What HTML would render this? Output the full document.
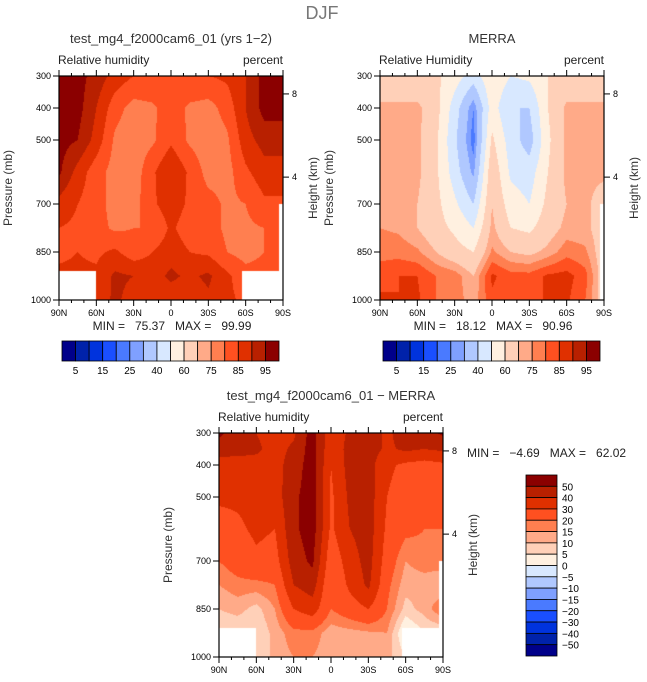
<!DOCTYPE html>
<html><head><meta charset="utf-8">
<style>
body{margin:0;background:#fff;width:647px;height:682px;overflow:hidden;position:relative;font-family:"Liberation Sans",sans-serif;}
canvas{position:absolute;left:0;top:0;}
svg{position:absolute;left:0;top:0;}
text{white-space:pre;}
</style></head><body>
<canvas id="cv" width="647" height="682"></canvas>
<svg id="sv" width="647" height="682"></svg>
<script>
// ---- data ----
const lats = [90,75,60,45,30,15,0,-15,-30,-45,-60,-75,-90];
const pres = [300,400,500,600,700,775,850,925,1000];
const presDiff = [300,350,400,500,600,700,775,850,925,1000];
const modelRH = [
 [97,97,93,88,85,85,83,85,85,86,90,97,97],
 [97,97,90,82,78,79,83,79,78,82,90,97,97],
 [97,95,88,79,77,79,84,79,77,79,88,92,92],
 [96,88,82,78,77,84,90,84,78,78,84,88,88],
 [88,85,82,78,78,84,88,84,82,79,80,84,84],
 [85,84,82,79,80,80,86,82,82,79,79,80,80],
 [84,85,84,86,82,85,88,85,84,80,78,80,80],
 [86,86,86,91,90,88,91,89,91,86,82,82,82],
 [87,87,87,91,88,87,87,87,89,86,84,84,84]
];
const merraRH = [
 [62,62,62,62,55,45,58,50,52,60,62,62,62],
 [72,72,72,64,45,25,55,40,40,60,72,72,72],
 [72,72,72,62,42,22,62,45,35,58,72,72,72],
 [72,72,72,62,45,28,68,48,45,60,72,72,72],
 [72,72,70,63,52,40,70,55,50,63,70,72,65],
 [75,74,70,64,58,50,72,60,58,66,72,72,65],
 [78,78,76,70,64,60,76,70,68,72,78,76,65],
 [83,85,85,80,78,70,86,82,82,86,87,82,65],
 [86,85,86,80,78,72,84,82,82,86,86,80,65]
];
const diffRH = [
 [52,45,40,35,38,55,32,42,45,38,45,45,52],
 [45,44,42,36,42,55,32,44,45,38,42,40,42],
 [35,35,36,36,45,55,30,44,44,32,28,26,28],
 [32,32,34,35,48,55,28,42,45,30,25,22,22],
 [25,28,32,30,48,55,28,40,45,28,22,20,20],
 [20,24,28,26,45,52,23,35,44,25,15,18,18],
 [15,18,18,20,40,45,20,32,42,22,12,12,10],
 [10,12,8,15,30,35,20,25,30,20,8,12,20],
 [5,5,5,12,18,18,12,13,14,15,-2,5,5],
 [5,5,5,12,15,15,12,12,12,12,5,5,5]
];
// missing regions: [latFrom, latTo, pressureFrom]
const maskModel = [[90,60,910],[-57,-90,910],[-87,-90,700]];
const maskMerra = [[-87,-90,700]];
const maskDiff = [[90,60,910],[-57,-90,910],[-87,-90,700]];
const levelsAbs = [5,10,15,20,25,30,40,50,60,70,75,80,85,90,95];
const levelsDiff = [-50,-40,-30,-20,-15,-10,-5,0,5,10,15,20,30,40,50];
const labelsAbs = [5,15,25,40,60,75,85,95];
const palette = ["#00008a","#0022aa","#0033dd","#1a4fff","#4a7aff","#7fa0ff","#b0c8ff","#d8e8ff",
 "#fff0e0","#ffd0b8","#ffaa88","#ff7f50","#ff5020","#e03000","#b82000","#8b0000"];
const stats = [["75.37","99.99"],["18.12","90.96"],["\u22124.69","62.02"]];

// ---- drawing ----
const ctx = document.getElementById('cv').getContext('2d');
const sv = document.getElementById('sv');
const NS = "http://www.w3.org/2000/svg";
function el(tag, attrs, txt){const e=document.createElementNS(NS,tag);for(const k in attrs)e.setAttribute(k,attrs[k]);if(txt!==undefined)e.textContent=txt;sv.appendChild(e);return e;}
function colorFor(v,levels){let i=0;while(i<levels.length&&v>=levels[i])i++;return palette[i];}
function interp(grid,plist,lat,p){
  let fx=(90-lat)/15; let i0=Math.min(Math.floor(fx),lats.length-2); let tx=fx-i0;
  let j0=0; while(j0<plist.length-2&&p>plist[j0+1])j0++;
  let ty=(p-plist[j0])/(plist[j0+1]-plist[j0]); ty=Math.max(0,Math.min(1,ty));
  const a=grid[j0][i0],b=grid[j0][i0+1],c=grid[j0+1][i0],d=grid[j0+1][i0+1];
  return (a*(1-tx)+b*tx)*(1-ty)+(c*(1-tx)+d*tx)*ty;
}
function masked(mask,lat,p){for(const m of mask){if(lat<=m[0]&&lat>=m[1]&&p>m[2])return true;}return false;}

function panel(o){
  const x0=o.x,y0=o.y,w=224,h=224;
  const xs=lat=>x0+(90-lat)/180*w;
  const ys=p=>y0+(p-300)/700*h;
  for(let px=0;px<w;px++){for(let py=0;py<h;py++){
    const lat=90-(px+0.5)/w*180, p=300+(py+0.5)/h*700;
    if(masked(o.mask,lat,p))continue;
    ctx.fillStyle=colorFor(interp(o.grid,o.plist,lat,p),o.levels);
    ctx.fillRect(x0+px,y0+py,1,1);
  }}
  el('rect',{x:x0,y:y0,width:w,height:h,fill:'none',stroke:'#000','stroke-width':1.2});
  const xl=['90N','60N','30N','0','30S','60S','90S'];
  for(let k=0;k<=18;k++){const lat=90-k*10,x=xs(lat),maj=k%3==0,L=maj?6:3;
    el('line',{x1:x,x2:x,y1:y0+h,y2:y0+h+L,stroke:'#000'});
    el('line',{x1:x,x2:x,y1:y0,y2:y0-L,stroke:'#000'});
    if(maj){const t=el('text',{x:x,y:y0+h+16,'font-size':9,'text-anchor':'middle'},xl[k/3]);
      }}
  for(const p of [300,400,500,700,850,1000]){const y=ys(p);
    el('line',{x1:x0,x2:x0-6,y1:y,y2:y,stroke:'#000'});
    const t=el('text',{x:x0-8,y:y+3,'font-size':9,'text-anchor':'end'},p);
    }
  for(const [km,p] of [[8,356],[4,616]]){const y=ys(p);
    el('line',{x1:x0+w,x2:x0+w+6,y1:y,y2:y,stroke:'#000'});
    el('text',{x:x0+w+9,y:y+3,'font-size':9},km);}
  const pt=el('text',{x:0,y:0,'font-size':12,fill:'#333','text-anchor':'middle',transform:`translate(${x0-47},${y0+112}) rotate(-90)`},'Pressure (mb)');
  
  const ht=el('text',{x:0,y:0,'font-size':12,fill:'#333','text-anchor':'middle',transform:`translate(${x0+w+34},${y0+112}) rotate(-90)`},'Height (km)');
  
  const tt=el('text',{x:x0+w/2,y:y0-33,'font-size':13,fill:'#333','text-anchor':'middle'},o.title);
  
  const l1=el('text',{x:x0-1,y:y0-12,'font-size':12,fill:'#222'},o.left);
  
  const l2=el('text',{x:x0+w,y:y0-12,'font-size':12,fill:'#222','text-anchor':'end'},'percent');
  
}
function statLine(x,y,s,anchor){
  const t=el('text',{x:x,y:y,'font-size':12,fill:'#222','text-anchor':anchor},'MIN =   '+s[0]+'   MAX =   '+s[1]);
  
}
function hbar(x0,y0){
  const w=217/16;
  for(let i=0;i<16;i++){const r=el('rect',{x:x0+i*w,y:y0,width:w,height:20,fill:palette[i],stroke:'#000','stroke-width':0.8});
    }
  labelsAbs.forEach(v=>{const i=levelsAbs.indexOf(v)+1;
    const t=el('text',{x:x0+i*w,y:y0+33,'font-size':10,'text-anchor':'middle'},v);
    });
}
function vbar(x0,y0){
  const h=181/16;
  for(let i=0;i<16;i++){const r=el('rect',{x:x0,y:y0+i*h,width:31,height:h,fill:palette[15-i],stroke:'#000','stroke-width':0.8});
    }
  levelsDiff.slice().reverse().forEach((v,k)=>{
    const t=el('text',{x:x0+36,y:y0+(k+1)*h+4,'font-size':10},String(v).replace('-','\u2212'));
    });
}
const main=el('text',{x:322,y:19,'font-size':18,fill:'#777','text-anchor':'middle'},'DJF');

panel({name:'model',x:59,y:76,grid:modelRH,plist:pres,levels:levelsAbs,mask:maskModel,title:'test_mg4_f2000cam6_01 (yrs 1\u22122)',left:'Relative humidity'});
panel({name:'merra',x:380,y:76,grid:merraRH,plist:pres,levels:levelsAbs,mask:maskMerra,title:'MERRA',left:'Relative Humidity'});
panel({name:'diff',x:219,y:433,grid:diffRH,plist:presDiff,levels:levelsDiff,mask:maskDiff,title:'test_mg4_f2000cam6_01 \u2212 MERRA',left:'Relative humidity'});
statLine(172,330,stats[0],'middle');
statLine(493,330,stats[1],'middle');
statLine(467,457,stats[2],'start');
hbar(62,341);hbar(383,341);vbar(526,475);
</script>
</body></html>
